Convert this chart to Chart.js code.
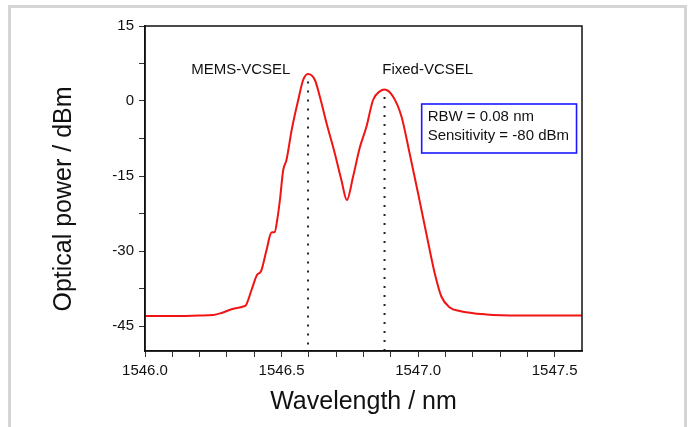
<!DOCTYPE html>
<html>
<head>
<meta charset="utf-8">
<script src="https://cdn.jsdelivr.net/npm/chart.js@4.4.1/dist/chart.umd.min.js"></script>
<style>
  html, body { margin: 0; padding: 0; background: #fff; overflow: hidden; }
  #frame { position: absolute; left: 8px; top: 5px; width: 673px; height: 440px;
           border: 3px solid #d5d5d5; border-bottom: none; }
  #spectrum { position: absolute; left: 0; top: 0; }
</style>
</head>
<body>
<div id="frame"></div>
<canvas id="spectrum" width="694" height="427"></canvas>
<script>
var wavelength = [1546.00, 1546.10, 1546.20, 1546.25, 1546.28, 1546.32, 1546.36, 1546.37, 1546.39, 1546.41,
    1546.425, 1546.445, 1546.463, 1546.475, 1546.484, 1546.494, 1546.506, 1546.518, 1546.537, 1546.561,
    1546.579, 1546.597, 1546.622, 1546.640, 1546.665, 1546.695, 1546.719, 1546.739, 1546.762, 1546.786,
    1546.811, 1546.835, 1546.859, 1546.877, 1546.908, 1546.939, 1546.969, 1547.000, 1547.030, 1547.061,
    1547.085, 1547.116, 1547.152, 1547.25, 1547.37, 1547.60];
var power = [-43.0, -43.0, -42.9, -42.8, -42.4, -41.6, -41.1, -40.8, -37.8, -34.8,
    -34.0, -29.8, -26.3, -26.2, -23.8, -19.8, -13.8, -11.8, -5.8, 0.2,
    4.2, 5.4, 4.2, 0.9, -4.5, -10.5, -15.8, -19.8, -15.1, -9.4,
    -5.1, 0.2, 1.9, 2.3, 0.9, -3.1, -10.5, -18.5, -26.5, -34.5,
    -39.1, -41.3, -42.0, -42.7, -42.9, -42.9];

// peak markers: wavelength of each laser and its peak power
var peakNames = ['MEMS-VCSEL', 'Fixed-VCSEL'];
var peakWavelength = [1546.597, 1546.877];
var peakPower = [5.4, 2.3];

var xTickValues = [1546.0, 1546.1, 1546.2, 1546.3, 1546.4, 1546.5, 1546.6, 1546.7, 1546.8, 1546.9,
    1547.0, 1547.1, 1547.2, 1547.3, 1547.4, 1547.5];
var xLabelValues = [1546.0, 1546.5, 1547.0, 1547.5];
var yTickValues = [-45, -37.5, -30, -22.5, -15, -7.5, 0, 7.5, 15];
var yLabelValues = [-45, -30, -15, 0, 15];

var infoLines = ['RBW = 0.08 nm', 'Sensitivity = -80 dBm'];

var FONT = "'Liberation Sans', Arial, sans-serif";

var spectrumData = wavelength.map(function (w, i) { return { x: w, y: power[i] }; });

var datasets = [{
    data: spectrumData,
    borderColor: '#f01414',
    borderWidth: 2,
    pointRadius: 0,
    fill: false,
    cubicInterpolationMode: 'monotone'
}];
peakWavelength.forEach(function (w, i) {
    datasets.push({
        data: [{ x: w, y: peakPower[i] - 1.5 }, { x: w, y: -50 }],
        borderColor: '#222',
        borderWidth: 2,
        borderDash: [2, 7],
        pointRadius: 0,
        fill: false
    });
});

var decorations = {
    id: 'decorations',
    afterDraw: function (chart) {
        var ctx = chart.ctx;
        var area = chart.chartArea;
        var xs = chart.scales.x, ys = chart.scales.y;
        ctx.save();

        // frame round the plot
        ctx.strokeStyle = '#111';
        ctx.lineWidth = 1.5;
        ctx.strokeRect(area.left, area.top, area.right - area.left, area.bottom - area.top);

        // peak names
        ctx.fillStyle = '#111';
        ctx.font = '15px ' + FONT;
        ctx.textBaseline = 'middle';
        ctx.textAlign = 'center';
        ctx.fillText(peakNames[0], xs.getPixelForValue(1546.351), ys.getPixelForValue(6.2));
        ctx.fillText(peakNames[1], xs.getPixelForValue(1547.035), ys.getPixelForValue(6.2));

        // info box
        var bx = xs.getPixelForValue(1547.013), by = ys.getPixelForValue(-0.6);
        var bw = xs.getPixelForValue(1547.580) - bx, bh = ys.getPixelForValue(-10.4) - by;
        ctx.fillStyle = '#fff';
        ctx.fillRect(bx, by, bw, bh);
        ctx.strokeStyle = '#1a1aff';
        ctx.lineWidth = 1.6;
        ctx.strokeRect(bx, by, bw, bh);
        ctx.fillStyle = '#111';
        ctx.textAlign = 'left';
        ctx.fillText(infoLines[0], bx + 6, by + 13);
        ctx.fillText(infoLines[1], bx + 6, by + 32);

        // axis titles
        ctx.font = '25px ' + FONT;
        ctx.textAlign = 'center';
        ctx.fillText('Wavelength / nm', (area.left + area.right) / 2, 402);
        ctx.translate(64, 199);
        ctx.rotate(-Math.PI / 2);
        ctx.fillText('Optical power / dBm', 0, 0);
        ctx.restore();
    }
};

new Chart(document.getElementById('spectrum').getContext('2d'), {
    type: 'line',
    data: { datasets: datasets },
    plugins: [decorations],
    options: {
        responsive: false,
        animation: false,
        devicePixelRatio: 1,
        layout: { padding: { left: 0, top: 26, right: 112, bottom: 0 } },
        plugins: { legend: { display: false }, tooltip: { enabled: false } },
        scales: {
            x: {
                type: 'linear',
                min: 1546.0,
                max: 1547.6,
                afterBuildTicks: function (scale) {
                    scale.ticks = xTickValues.map(function (v) { return { value: v }; });
                },
                afterFit: function (scale) { scale.height = 76; },
                grid: { drawOnChartArea: false, tickLength: 6, tickColor: '#333' },
                border: { color: '#111', width: 1.5 },
                ticks: {
                    autoSkip: false,
                    maxRotation: 0,
                    padding: 5,
                    color: '#111',
                    font: { family: FONT, size: 15 },
                    callback: function (v) {
                        return xLabelValues.some(function (l) { return Math.abs(l - v) < 1e-6; }) ? v.toFixed(1) : '';
                    }
                }
            },
            y: {
                min: -50,
                max: 15,
                afterBuildTicks: function (scale) {
                    scale.ticks = yTickValues.map(function (v) { return { value: v }; });
                },
                afterFit: function (scale) { scale.width = 145; },
                grid: { drawOnChartArea: false, tickLength: 6, tickColor: '#333' },
                border: { color: '#111', width: 1.5 },
                ticks: {
                    padding: 5,
                    color: '#111',
                    font: { family: FONT, size: 15 },
                    callback: function (v) {
                        return yLabelValues.indexOf(v) >= 0 ? String(v) : '';
                    }
                }
            }
        }
    }
});
</script>
</body>
</html>
